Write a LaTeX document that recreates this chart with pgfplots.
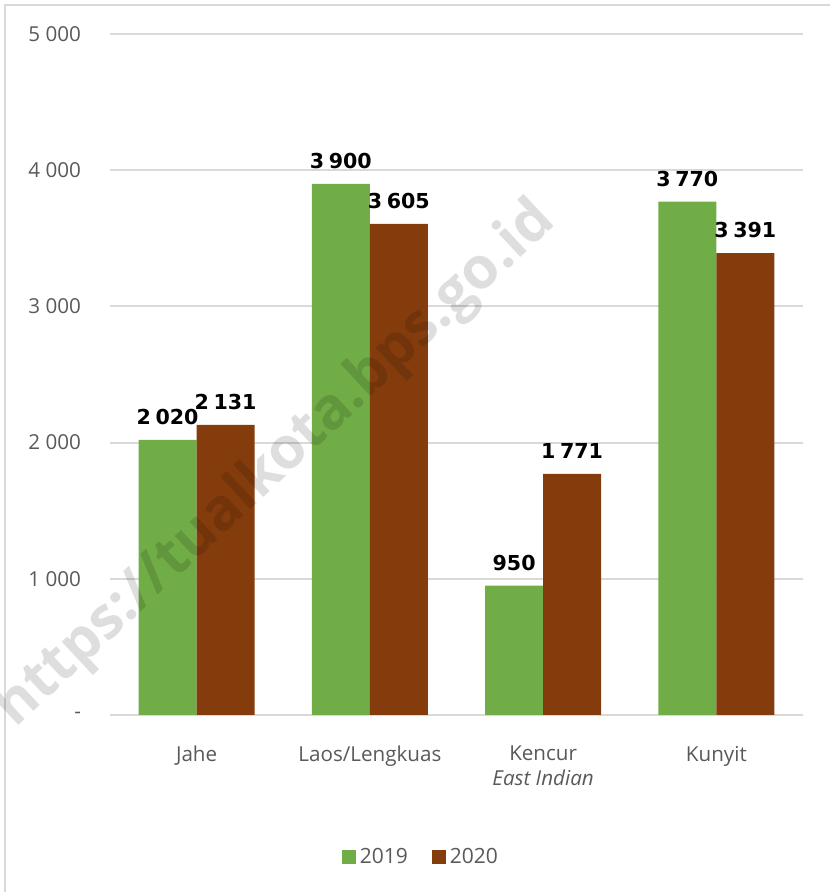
\documentclass[border=0pt]{standalone}
\usepackage{fontspec}
\setmainfont{Open Sans}
\newfontfamily\labfont{DejaVu Sans}
\usepackage{pgfplots}
\pgfplotsset{compat=1.18}
\definecolor{cgreen}{HTML}{70AD47}
\definecolor{cbrown}{HTML}{843C0C}
\definecolor{cgrid}{HTML}{D9D9D9}
\definecolor{ctext}{HTML}{595959}
\begin{document}
\begin{tikzpicture}
  \path[use as bounding box] (-55pt,-88.5pt) rectangle (359.5pt,357.5pt);
  \draw[cgrid, line width=1pt] (-52.5pt,-90pt) -- (-52.5pt,355pt) -- (362pt,355pt);
  \begin{axis}[
      at={(0,0)}, anchor=south west,
      scale only axis, width=346.5pt, height=340.5pt,
      ybar=0pt, bar width=29pt,
      xmin=-0.5, xmax=3.5, ymin=0, ymax=5000,
      axis line style={draw=none},
      ytick={0,1000,2000,3000,4000,5000},
      yticklabels={{-\hspace{4.5pt}}, 1 000, 2 000, 3 000, 4 000, 5 000},
      yticklabel style={font=\fontsize{10.3}{12}\selectfont, text=ctext, xshift=-11pt},
      xtick={0,1,2,3},
      xticklabels={Jahe, Laos/Lengkuas, {Kencur\\\textit{East Indian}}, Kunyit},
      xticklabel style={font=\fontsize{10.3}{12.5}\selectfont, text=ctext, align=center, anchor=north, yshift=-12pt},
      major tick length=0pt,
      ymajorgrids, grid style={cgrid, line width=1pt},
      /pgf/number format/assume math mode=true,
      /pgf/number format/1000 sep={\hspace{0.22em}},
      nodes near coords,
      nodes near coords style={font=\labfont\bfseries\fontsize{10.3}{12}\selectfont, text=black, anchor=south, yshift=4pt},
      legend style={at={(0.45,-0.2085)}, anchor=center, draw=none, legend columns=2,
        font=\fontsize{10.5}{12}\selectfont, text=ctext,
        /tikz/every even column/.append style={column sep=10pt}},
      legend image code/.code={\fill[#1] (0pt,-3.5pt) rectangle (7pt,3.5pt);},
    ]
    \addplot[fill=cgreen, draw=none] coordinates {(0,2020) (1,3900) (2,950) (3,3770)};
    \addplot[fill=cbrown, draw=none] coordinates {(0,2131) (1,3605) (2,1771) (3,3391)};
    \legend{2019, 2020}
  \end{axis}
  \node[rotate=43, text=black, text opacity=0.13, font=\bfseries\fontsize{29}{33}\selectfont]
    at (83pt,125pt) {https://tualkota.bps.go.id};
\end{tikzpicture}
\end{document}
